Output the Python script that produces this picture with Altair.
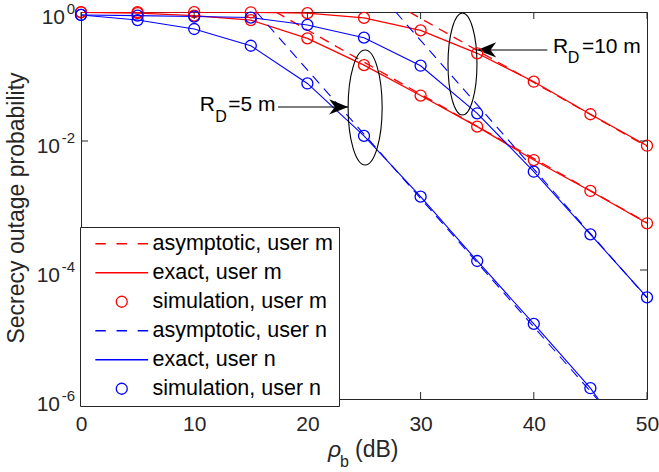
import altair as alt
import pandas as pd

W, H = 566, 387
FONT = "Liberation Sans"
RED, BLUE, AX = "#FF0000", "#0000FF", "#262626"

# ---------------- data ----------------
snr = [0, 5, 10, 15, 20, 25, 30, 35, 40, 45, 50]
# user m (red)
m_5m = [0.99, 0.96, 0.88, 0.75, 0.39, 0.15, 0.0507, 0.0167, 5.07e-3, 1.68e-3, 5.3e-4]
m_10m = [0.995, 0.995, 0.995, 0.99, 0.96, 0.81, 0.52, 0.229, 0.083, 0.026, 8.45e-3]
# user n (blue)
n_5m = [0.90, 0.75, 0.545, 0.30, 0.078, 0.012, 1.37e-3, 1.38e-4, 1.46e-5, 1.47e-6]
n_10m = [0.90, 0.88, 0.85, 0.82, 0.63, 0.40, 0.147, 0.0269, 3.34e-3, 3.57e-4, 3.77e-5]
# where the exact user-n (5 m) curve leaves the axes
n_5m_exit_x = [45.7]
n_5m_exit_y = [1e-6]

# asymptotic lines (end points)
asy_m_5m_x, asy_m_5m_y = [17.2, 50], [1.0, 5.4e-4]
asy_m_10m_x, asy_m_10m_y = [29.0, 50], [1.0, 8.2e-3]
asy_n_5m_x, asy_n_5m_y = [15.5, 45.6], [1.0, 1e-6]
asy_n_10m_x, asy_n_10m_y = [27.8, 50], [1.0, 3.7e-5]

legend_labels = ["asymptotic, user m", "exact, user m", "simulation, user m",
                 "asymptotic, user n", "exact, user n", "simulation, user n"]

x_ticks = [0, 10, 20, 30, 40, 50]
y_ticks = [1, 1e-2, 1e-4, 1e-6]
y_tick_exp = ["0", "-2", "-4", "-6"]
y_inner_ticks = [1e-2, 1e-4]

# annotations (data coordinates)
ell_x = [25.1, 33.7]
ell_y = [0.0331, 0.156]
arrow_from_x = [17.4, 41.2]
arrow_to_x = [23.6, 35.0]
arrow_y = [0.0337, 0.258]
r_text = ["R", "R"]
r_x = [10.5, 41.7]
r_y = [0.0292, 0.231]
d_x = [11.85, 43.0]
d_y = [0.0197, 0.162]
eq_text = ["=5 m", "=10 m"]
eq_x = [13.0, 44.25]

# ---------------- frames ----------------
def frame(xv, yv, curve):
    return pd.DataFrame({"x": xv, "y": yv, "curve": curve})

exact_red = pd.concat([frame(snr, m_5m, "5"), frame(snr, m_10m, "10")])
exact_blue = pd.concat([frame(snr[:10] + n_5m_exit_x, n_5m + n_5m_exit_y, "5"),
                        frame(snr, n_10m, "10")])
asy_red = pd.concat([frame(asy_m_5m_x, asy_m_5m_y, "5"), frame(asy_m_10m_x, asy_m_10m_y, "10")])
asy_blue = pd.concat([frame(asy_n_5m_x, asy_n_5m_y, "5"), frame(asy_n_10m_x, asy_n_10m_y, "10")])

sim = pd.concat([
    pd.DataFrame({"x": snr, "y": m_5m, "label": legend_labels[2]}),
    pd.DataFrame({"x": snr, "y": m_10m, "label": legend_labels[2]}),
    pd.DataFrame({"x": snr[:10], "y": n_5m, "label": legend_labels[5]}),
    pd.DataFrame({"x": snr, "y": n_10m, "label": legend_labels[5]}),
])

# ---------------- scales / helpers ----------------
xs = alt.Scale(domain=[0, 50], nice=False, zero=False)
ys = alt.Scale(type="log", domain=[1e-6, 1], nice=False)
xaxis = alt.Axis(values=x_ticks, title=None, grid=False, ticks=False, tickSize=0,
                 domain=False, labelFont=FONT, labelFontSize=21, labelColor=AX,
                 labelPadding=31, labelBaseline="alphabetic", labelFlush=False,
                 labelOverlap=False, format="d")


def X(f):
    return alt.X(f, type="quantitative", scale=xs, axis=xaxis)


def Y(f):
    return alt.Y(f, type="quantitative", scale=ys, axis=None)


DASH = [10, 7]

lines = [
    alt.Chart(asy_red).mark_line(color=RED, strokeWidth=1.3, strokeDash=DASH, clip=True)
    .encode(x=X("x"), y=Y("y"), detail="curve:N"),
    alt.Chart(exact_red).mark_line(color=RED, strokeWidth=1.3, clip=True)
    .encode(x=X("x"), y=Y("y"), detail="curve:N"),
    alt.Chart(asy_blue).mark_line(color=BLUE, strokeWidth=1.1, strokeDash=DASH, clip=True)
    .encode(x=X("x"), y=Y("y"), detail="curve:N"),
    alt.Chart(exact_blue).mark_line(color=BLUE, strokeWidth=1.1, clip=True)
    .encode(x=X("x"), y=Y("y"), detail="curve:N"),
]

dash_path = "M -4.8 0 L -2.9 0 M -0.95 0 L 0.95 0 M 2.9 0 L 4.8 0"
solid_path = "M -4.8 0 L 4.8 0"
shape_range = [dash_path, solid_path, "circle", dash_path, solid_path, "circle"]
color_range = [RED, RED, RED, BLUE, BLUE, BLUE]

leg = alt.Legend(title=None, orient="none", legendX=-1, legendY=215, direction="vertical",
                 fillColor="white", strokeColor=AX, padding=6,
                 labelFont=FONT, labelFontSize=21.5, labelColor="black", labelLimit=400,
                 rowPadding=6, symbolSize=121, symbolStrokeWidth=1.3,
                 symbolOffset=25, labelOffset=20)

points = alt.Chart(sim).mark_point(filled=False, size=121, strokeWidth=1.3, opacity=1).encode(
    x=X("x"), y=Y("y"),
    color=alt.Color("label:N", scale=alt.Scale(domain=legend_labels, range=color_range), legend=leg),
    shape=alt.Shape("label:N", scale=alt.Scale(domain=legend_labels, range=shape_range), legend=leg),
)

# ---------------- inward ticks ----------------
xt = pd.DataFrame({"v": x_ticks})
yt = pd.DataFrame({"v": y_inner_ticks})
ticks = [
    alt.Chart(xt).mark_rule(color=AX, strokeWidth=1).encode(x=X("v"), y=alt.value(H - 7), y2=alt.value(H)),
    alt.Chart(xt).mark_rule(color=AX, strokeWidth=1).encode(x=X("v"), y=alt.value(0), y2=alt.value(7)),
    alt.Chart(yt).mark_rule(color=AX, strokeWidth=1).encode(y=Y("v"), x=alt.value(0), x2=alt.value(7)),
    alt.Chart(yt).mark_rule(color=AX, strokeWidth=1).encode(y=Y("v"), x=alt.value(W - 7), x2=alt.value(W)),
]

# ---------------- y tick labels 10^k ----------------
ylab = pd.DataFrame({"v": y_ticks, "e": y_tick_exp, "b": ["10"] * len(y_ticks)})
ylab["px_e"] = -6
ylab["px_b"] = [-6 - (9 if len(e) == 1 else 14) - 1 for e in y_tick_exp]
ylabels = [
    alt.Chart(ylab).mark_text(align="right", baseline="alphabetic", dy=12, font=FONT,
                              fontSize=21, color=AX)
    .encode(x=alt.X("px_b:Q", scale=None), y=Y("v"), text="b:N"),
    alt.Chart(ylab).mark_text(align="right", baseline="alphabetic", dy=2, font=FONT,
                              fontSize=15, color=AX)
    .encode(x=alt.X("px_e:Q", scale=None), y=Y("v"), text="e:N"),
]

# ---------------- axis titles ----------------
one = pd.DataFrame({"a": [0]})
titles = [
    alt.Chart(one).mark_text(angle=270, align="center", baseline="alphabetic", font=FONT,
                             fontSize=23, color=AX, text="Secrecy outage probability")
    .encode(x=alt.value(-57), y=alt.value(196)),
    alt.Chart(one).mark_text(align="left", baseline="alphabetic", font=FONT, fontSize=23,
                             fontStyle="italic", color=AX, text="ρ")
    .encode(x=alt.value(247), y=alt.value(445)),
    alt.Chart(one).mark_text(align="left", baseline="alphabetic", font=FONT, fontSize=16,
                             color=AX, text="b")
    .encode(x=alt.value(259), y=alt.value(455)),
    alt.Chart(one).mark_text(align="left", baseline="alphabetic", font=FONT, fontSize=23,
                             color=AX, text="(dB)")
    .encode(x=alt.value(274), y=alt.value(445)),
]

# ---------------- annotations ----------------
def ellipse_path(a):
    k = 0.5523
    return (f"M 0 -1 C {k*a:.4f} -1 {a:.4f} {-k:.4f} {a:.4f} 0 "
            f"C {a:.4f} {k:.4f} {k*a:.4f} 1 0 1 "
            f"C {-k*a:.4f} 1 {-a:.4f} {k:.4f} {-a:.4f} 0 "
            f"C {-a:.4f} {-k:.4f} {-k*a:.4f} -1 0 -1 Z")

ann = pd.DataFrame({"ex": ell_x, "ey": ell_y, "ax1": arrow_from_x, "ax2": arrow_to_x,
                    "ay": arrow_y, "r": r_text, "rx": r_x, "ry": r_y, "dx": d_x, "dy": d_y,
                    "eq": eq_text, "eqx": eq_x})
ann["d"] = "D"

annots = [
    alt.Chart(ann.iloc[[0]]).mark_point(shape=ellipse_path(0.296), size=115 ** 2, filled=False,
                                        color="black", strokeWidth=1.1, opacity=1)
    .encode(x=X("ex"), y=Y("ey")),
    alt.Chart(ann.iloc[[1]]).mark_point(shape=ellipse_path(0.284), size=102 ** 2, filled=False,
                                        color="black", strokeWidth=1.1, opacity=1)
    .encode(x=X("ex"), y=Y("ey")),
    alt.Chart(ann).mark_rule(color="black", strokeWidth=1.1)
    .encode(x=X("ax1"), x2="ax2:Q", y=Y("ay")),
    alt.Chart(ann.iloc[[0]]).mark_point(shape="M 0 0 L -2 -0.8 L -1.4 0 L -2 0.8 Z", size=361,
                                        filled=True, color="black", opacity=1)
    .encode(x=X("ax2"), y=Y("ay")),
    alt.Chart(ann.iloc[[1]]).mark_point(shape="M 0 0 L 2 -0.8 L 1.4 0 L 2 0.8 Z", size=361,
                                        filled=True, color="black", opacity=1)
    .encode(x=X("ax2"), y=Y("ay")),
    alt.Chart(ann).mark_text(align="left", baseline="alphabetic", font=FONT, fontSize=21,
                             color="black")
    .encode(x=X("rx"), y=Y("ry"), text="r:N"),
    alt.Chart(ann).mark_text(align="left", baseline="alphabetic", font=FONT, fontSize=16,
                             color="black")
    .encode(x=X("dx"), y=Y("dy"), text="d:N"),
    alt.Chart(ann).mark_text(align="left", baseline="alphabetic", font=FONT, fontSize=21,
                             color="black")
    .encode(x=X("eqx"), y=Y("ry"), text="eq:N"),
]

chart = alt.layer(*lines, *annots, points, *ticks, *ylabels, *titles).properties(
    width=W, height=H,
    padding={"left": 81, "top": 12, "right": 12, "bottom": 73},
    autosize=alt.AutoSizeParams(type="none"),
    background="white",
).configure_view(stroke=AX, strokeWidth=1)

chart.save("out.html", embed_options={"renderer": "svg", "actions": False})
